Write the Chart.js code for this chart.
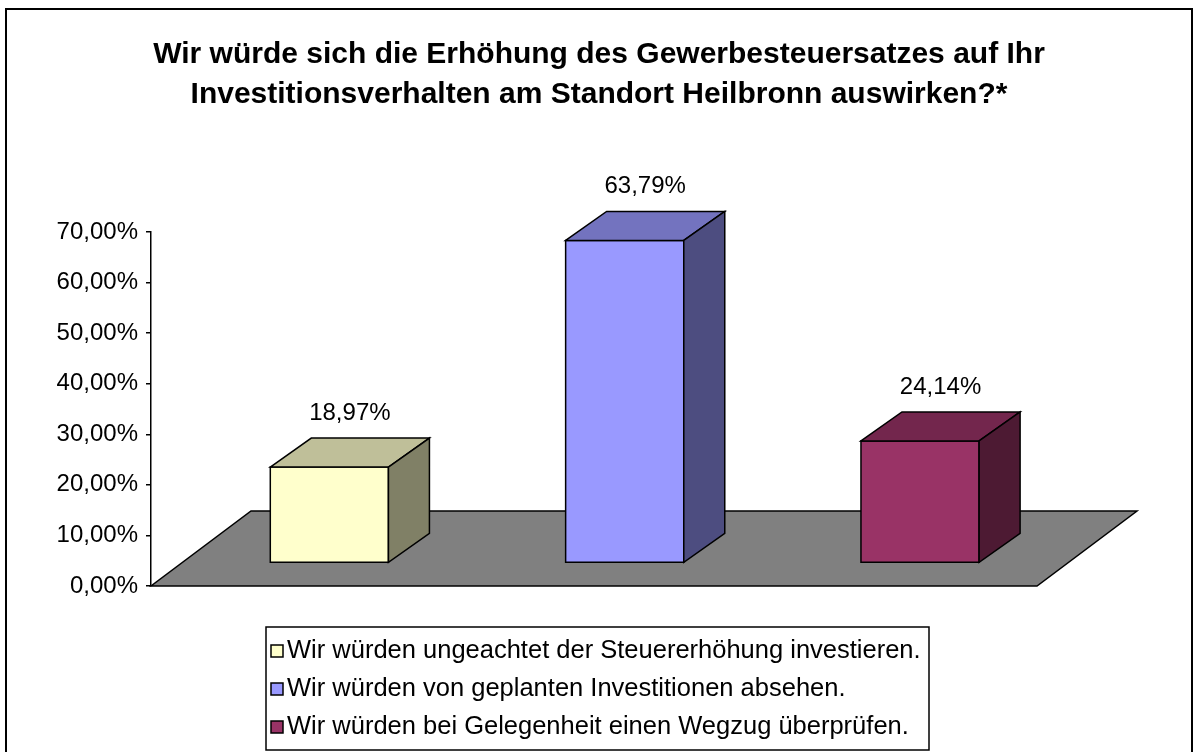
<!DOCTYPE html>
<html>
<head>
<meta charset="utf-8">
<script src="https://cdn.jsdelivr.net/npm/chart.js@4.4.1/dist/chart.umd.min.js"></script>
<style>
    html, body { margin: 0; padding: 0; background: #fff; }
    #wrap { width: 1197px; height: 752px; }
</style>
</head>
<body>
<div id="wrap"><canvas id="investChart" width="1197" height="752"></canvas></div>
<script>
// Chart data
const titleLines = [
    'Wir würde sich die Erhöhung des Gewerbesteuersatzes auf Ihr',
    'Investitionsverhalten am Standort Heilbronn auswirken?*'
];
const categories = [
    'Wir würden ungeachtet der Steuererhöhung investieren.',
    'Wir würden von geplanten Investitionen absehen.',
    'Wir würden bei Gelegenheit einen Wegzug überprüfen.'
];
const shares = [0.1897, 0.6379, 0.2414];
const barColors = ['#FFFFCC', '#9999FF', '#993366'];
const yTicks = [0, 0.1, 0.2, 0.3, 0.4, 0.5, 0.6, 0.7];

const FONT = '"Liberation Sans", Arial, sans-serif';

// German percent format: 18,97%
function pct(v) {
    return (v * 100).toFixed(2).replace('.', ',') + '%';
}

// scale an rgb hex colour (for the shaded 3D faces)
function shade(hex, f) {
    const n = parseInt(hex.slice(1), 16);
    const r = Math.round(((n >> 16) & 255) * f);
    const g = Math.round(((n >> 8) & 255) * f);
    const b = Math.round((n & 255) * f);
    return `rgb(${r},${g},${b})`;
}

function poly(ctx, pts, fill) {
    ctx.beginPath();
    ctx.moveTo(pts[0][0], pts[0][1]);
    for (let i = 1; i < pts.length; i++) ctx.lineTo(pts[i][0], pts[i][1]);
    ctx.closePath();
    ctx.fillStyle = fill;
    ctx.fill();
    ctx.stroke();
}

// 3D look: floor, extruded bars, value labels, title, framed legend
const bar3d = {
    id: 'bar3d',
    beforeDatasetsDraw(chart) {
        const ctx = chart.ctx;
        const area = chart.chartArea;
        const floorDx = 100, floorDy = -75;
        const shiftX = 30.7, shiftY = -23;
        const depthX = 41, depthY = -29;

        ctx.save();
        ctx.strokeStyle = '#000';
        ctx.lineWidth = 1.5;
        ctx.lineJoin = 'miter';

        // floor
        poly(ctx, [
            [area.left, area.bottom],
            [area.right, area.bottom],
            [area.right + floorDx, area.bottom + floorDy],
            [area.left + floorDx, area.bottom + floorDy]
        ], '#808080');

        const meta = chart.getDatasetMeta(0);
        meta.data.forEach((el, i) => {
            const p = el.getProps(['x', 'y', 'base', 'width'], true);
            const l = p.x - p.width / 2 + shiftX;
            const r = p.x + p.width / 2 + shiftX;
            const t = p.y + shiftY;
            const b = p.base + shiftY;
            const c = barColors[i];

            poly(ctx, [[l, b], [r, b], [r, t], [l, t]], c);
            poly(ctx, [[l, t], [l + depthX, t + depthY], [r + depthX, t + depthY], [r, t]], shade(c, 0.75));
            poly(ctx, [[r, t], [r + depthX, t + depthY], [r + depthX, b + depthY], [r, b]], shade(c, 0.5));

            ctx.fillStyle = '#000';
            ctx.font = '24px ' + FONT;
            ctx.textAlign = 'center';
            ctx.textBaseline = 'middle';
            ctx.fillText(pct(shares[i]), (l + r + depthX) / 2, t + depthY - 25);
        });
        ctx.restore();
        return false;
    },
    afterDraw(chart) {
        const ctx = chart.ctx;
        ctx.save();
        // outer frame
        ctx.strokeStyle = '#000';
        ctx.lineWidth = 2;
        ctx.strokeRect(6, 9, 1186, 780);

        // title
        ctx.fillStyle = '#000';
        ctx.font = 'bold 30px ' + FONT;
        ctx.textAlign = 'center';
        ctx.textBaseline = 'middle';
        titleLines.forEach((line, i) => ctx.fillText(line, 599, 55 + i * 40));

        // legend
        const boxL = 266, boxT = 627, boxR = 929, boxB = 750;
        ctx.lineWidth = 1.5;
        ctx.strokeRect(boxL, boxT, boxR - boxL, boxB - boxT);
        ctx.font = '25.5px ' + FONT;
        ctx.textAlign = 'left';
        categories.forEach((label, i) => {
            const cy = 651 + i * 38;
            ctx.fillStyle = barColors[i];
            ctx.fillRect(271, cy - 6, 12, 12);
            ctx.strokeRect(271, cy - 6, 12, 12);
            ctx.fillStyle = '#000';
            ctx.fillText(label, 287, cy);
        });
        ctx.restore();
    }
};

new Chart(document.getElementById('investChart').getContext('2d'), {
    type: 'bar',
    data: {
        labels: categories,
        datasets: [{
            data: shares,
            backgroundColor: barColors,
            borderColor: '#000',
            borderWidth: 1.5,
            categoryPercentage: 1,
            barPercentage: 0.4
        }]
    },
    options: {
        responsive: false,
        animation: false,
        layout: {
            padding: { top: 232, left: 0, right: 160, bottom: 166 }
        },
        plugins: {
            legend: { display: false },
            tooltip: { enabled: false },
            title: { display: false }
        },
        scales: {
            x: {
                display: false
            },
            y: {
                min: 0,
                max: 0.7,
                afterFit(scale) { scale.width = 151; },
                afterBuildTicks(scale) { scale.ticks = yTicks.map(v => ({ value: v })); },
                border: { display: true, color: '#000', width: 1.5 },
                grid: { drawOnChartArea: false, drawTicks: true, tickLength: 5, color: '#000', lineWidth: 1.5 },
                ticks: {
                    color: '#000',
                    padding: 8,
                    font: { family: FONT, size: 24 },
                    callback: v => pct(v)
                }
            }
        }
    },
    plugins: [bar3d]
});
</script>
</body>
</html>
